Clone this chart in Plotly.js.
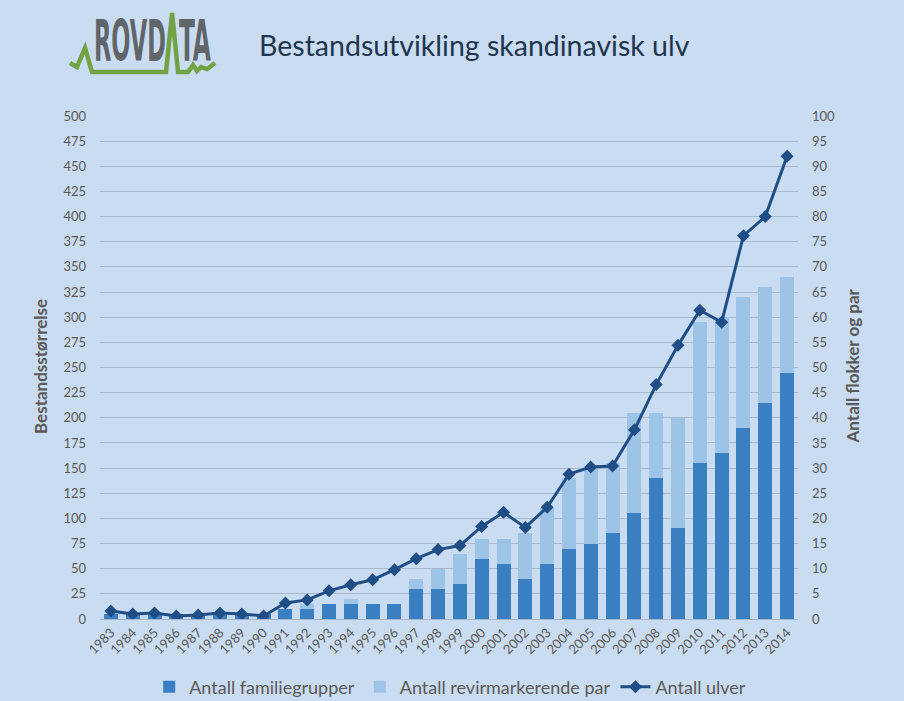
<!DOCTYPE html>
<html>
<head>
<meta charset="utf-8">
<script src="https://cdn.plot.ly/plotly-3.0.1.min.js"></script>
<style>html,body{margin:0;padding:0;background:#cadcf1;}#chart{width:904px;height:701px;}</style>
</head>
<body>
<div id="chart"></div>
<script>
// ---- data ----
const years = ['1983','1984','1985','1986','1987','1988','1989','1990','1991','1992','1993','1994','1995','1996','1997','1998','1999','2000','2001','2002','2003','2004','2005','2006','2007','2008','2009','2010','2011','2012','2013','2014'];
const familiegrupper = [1,1,1,1,1,1,1,1,2,2,3,3,3,3,6,6,7,12,11,8,11,14,15,17,21,28,18,31,33,38,43,49];
const revirpar =        [0,0,0,0,0,0,0,0,0,1,0,1,0,0,2,4,6,4,5,9,11,14,15,14,20,13,22,28,27,26,23,19];
const ulver = [8,5,6,3,4,6,5,3,16,19,28,34,39,49,60,69,73,92,106,91,111,144,151,152,188,233,272,307,295,381,400,460];
const leftTicks = [0,25,50,75,100,125,150,175,200,225,250,275,300,325,350,375,400,425,450,475,500];
const rightTicks = [0,5,10,15,20,25,30,35,40,45,50,55,60,65,70,75,80,85,90,95,100];

// ---- layout helpers (pixel -> paper) ----
const L = 100, R = 797.6, T = 116, B = 619;
const px = x => (x - L) / (R - L);
const py = y => (B - y) / (B - T);

const FONT = 'Lato, "Open Sans", sans-serif';
const tickFont = {family: FONT, size: 13, color: '#595959'};
const axisTitleFont = {family: FONT, size: 17, color: '#595959', weight: 'bold'};
const LOGO_FONT = {family: '"Liberation Sans Narrow", "DejaVu Sans Condensed", sans-serif', size: 40, color: '#5f6569', weight: 'bold'};

const traces = [
  {type: 'bar', name: 'Antall familiegrupper', x: years, y: familiegrupper, yaxis: 'y',
   marker: {color: '#3a7fc2'}},
  {type: 'bar', name: 'Antall revirmarkerende par', x: years, y: revirpar, yaxis: 'y',
   marker: {color: '#9dc3e6'}},
  {type: 'scatter', mode: 'lines+markers', name: 'Antall ulver', x: years, y: ulver, yaxis: 'y2',
   line: {color: '#1f4e86', width: 3}, marker: {symbol: 'diamond', size: 10, color: '#1f4e86'}}
];

// logo line path (decoration)
const logoPts = [[70,63],[77,67],[85,48],[92,72],[166,72],[172,13],[178,72],[188,72],[193,65],[197,71],[201,67],[207,69],[215,63]];
const logoPath = 'M' + logoPts.map(p => px(p[0]).toFixed(4) + ',' + py(p[1]).toFixed(4)).join(' L');

const layout = {
  width: 904, height: 701,
  paper_bgcolor: '#cadcf1', plot_bgcolor: '#cadcf1',
  margin: {l: L, r: 904 - R, t: T, b: 701 - B, pad: 0, autoexpand: false},
  barmode: 'stack', bargap: 0.36,
  showlegend: true,
  legend: {orientation: 'h', x: px(450), xanchor: 'center', y: py(687), yanchor: 'middle',
           font: {family: FONT, size: 18, color: '#595959'},
           bgcolor: 'rgba(0,0,0,0)', traceorder: 'normal', itemwidth: 30},
  title: {text: 'Bestandsutvikling skandinavisk ulv', xref: 'paper', x: px(474), xanchor: 'center',
          yref: 'container', y: 1 - 46/701, yanchor: 'middle',
          font: {family: FONT, size: 28.5, color: '#1e3550'}},
  xaxis: {type: 'category', tickangle: -45, tickfont: {family: FONT, size: 13, color: '#595959'}, automargin: false,
          showgrid: false, showline: true, linecolor: '#a6b6c8', linewidth: 1, ticks: '', range: [-0.5, 31.5]},
  yaxis: {side: 'right', range: [0, 100], tickvals: rightTicks, ticktext: rightTicks.map(String), automargin: false,
          showgrid: true, gridcolor: '#a9b9cb', gridwidth: 1, zeroline: false, ticks: '',
          ticklabelstandoff: 13, tickfont: tickFont},
  yaxis2: {side: 'left', overlaying: 'y', range: [0, 500], tickvals: leftTicks, ticktext: leftTicks.map(String), automargin: false,
           showgrid: false, zeroline: false, ticks: '', ticklabelstandoff: 13, tickfont: tickFont},
  annotations: [
    {text: 'Bestandsstørrelse', xref: 'paper', yref: 'paper', x: px(40), y: py(366), textangle: -90,
     showarrow: false, font: axisTitleFont, xanchor: 'center', yanchor: 'middle'},
    {text: 'Antall flokker og par', xref: 'paper', yref: 'paper', x: px(852), y: py(366), textangle: -90,
     showarrow: false, font: axisTitleFont, xanchor: 'center', yanchor: 'middle'},
    {text: 'ROVD', xref: 'paper', yref: 'paper', x: px(92), y: py(71.5), xanchor: 'left', yanchor: 'bottom',
     showarrow: false, font: LOGO_FONT},
    {text: 'TA', xref: 'paper', yref: 'paper', x: px(177), y: py(71.5), xanchor: 'left', yanchor: 'bottom',
     showarrow: false, font: LOGO_FONT}
  ],
  shapes: [
    {type: 'path', xref: 'paper', yref: 'paper', path: logoPath, line: {color: '#72a244', width: 4.5}, layer: 'above'}
  ]
};

Plotly.newPlot('chart', traces, layout, {displayModeBar: false, staticPlot: true}).then(function (gd) {
  // condense the logo lettering (real text, only reshaped)
  const targets = [{w: 72}, {w: 32}];
  const texts = gd.querySelectorAll('.annotation-text');
  [2, 3].forEach(function (idx, k) {
    const t = texts[idx];
    if (!t) return;
    const bb = t.getBBox();
    const baseline = bb.y + bb.height * 0.905 / 1.117;
    const sx = targets[k].w / bb.width;
    const sy = 42 / (0.729 * LOGO_FONT.size);
    t.setAttribute('transform', 'translate(' + bb.x + ',' + baseline + ') scale(' + sx + ',' + sy + ') translate(' + (-bb.x) + ',' + (-baseline) + ')');
  });
});
</script>
</body>
</html>
